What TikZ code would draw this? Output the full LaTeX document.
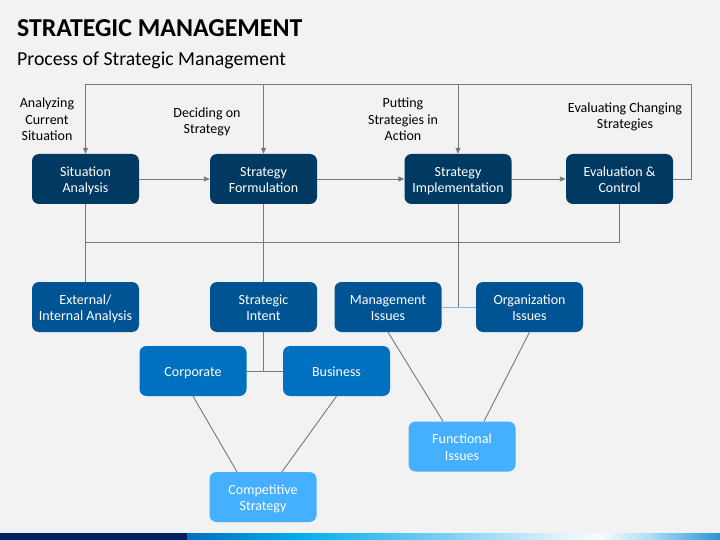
\documentclass[tikz,border=0pt]{standalone}
\usepackage{fontspec}
\setmainfont{Carlito}
\usetikzlibrary{arrows.meta,calc}
\definecolor{bg}{RGB}{242,242,242}
\definecolor{navy}{RGB}{0,58,99}
\definecolor{midblue}{RGB}{0,84,147}
\definecolor{brightblue}{RGB}{0,112,192}
\definecolor{lightblue}{RGB}{69,176,255}
\definecolor{linegray}{RGB}{120,120,120}
\definecolor{joinblue}{RGB}{141,180,226}
\definecolor{barnavy}{RGB}{0,32,96}
\newcommand{\boxtxt}[1]{\raisebox{-2pt}[\height][\depth]{\begin{tabular}{@{}c@{}}#1\end{tabular}}}
\begin{document}
\begin{tikzpicture}[x=1pt,y=-1pt,
  box/.style={rounded corners=7pt, minimum width=107pt, minimum height=50pt, inner sep=0pt,
    text=white, font=\fontsize{14}{16.5}\selectfont},
  navybox/.style={box, fill=navy},
  midbox/.style={box, fill=midblue},
  brightbox/.style={box, fill=brightblue},
  lightbox/.style={box, fill=lightblue},
  lab/.style={align=center, font=\fontsize{14}{16.5}\selectfont, inner sep=0pt},
  conn/.style={draw=linegray, line width=0.9pt},
  arr/.style={conn, -{Triangle[length=6pt,width=5pt]}, shorten >=0pt}]
\fill[bg] (0,0) rectangle (720,540);
\useasboundingbox (0,0) rectangle (720,540);

% bottom bar
\fill[barnavy] (0,533) rectangle (187,540);
\shade[left color=brightblue, right color={rgb,255:red,0;green,174;blue,239}] (187,533) rectangle (300,540);
\shade[left color={rgb,255:red,0;green,174;blue,239}, right color={rgb,255:red,127;green,208;blue,243}] (299.5,533) rectangle (450,540);
\shade[left color={rgb,255:red,127;green,208;blue,243}, right color={rgb,255:red,224;green,242;blue,252}] (449.5,533) rectangle (560,540);
\shade[left color={rgb,255:red,224;green,242;blue,252}, right color={rgb,255:red,248;green,251;blue,253}] (559.5,533) rectangle (600,540);
\shade[left color={rgb,255:red,248;green,251;blue,253}, right color={rgb,255:red,176;green,221;blue,245}] (599.5,533) rectangle (650,540);
\shade[left color={rgb,255:red,176;green,221;blue,245}, right color={rgb,255:red,42;green,149;blue,213}] (649.5,533) rectangle (720,540);

% titles
\node[anchor=base west, inner sep=0pt, font=\fontsize{25.8}{30}\selectfont\bfseries] (title) at (17,36.5) {STRATEGIC MANAGEMENT};
\node[anchor=base west, inner sep=0pt, font=\fontsize{19.8}{24}\selectfont] (subtitle) at (17,66) {Process of Strategic Management};

% labels
\node[lab] (l1) at (47,119.5) {Analyzing\\Current\\Situation};
\node[lab] (l2) at (207,122) {Deciding on\\Strategy};
\node[lab] (l3) at (403,119.5) {Putting\\Strategies in\\Action};
\node[lab] (l4) at (625,117) {Evaluating Changing\\Strategies};

% row 1
\node[navybox] (sa) at (85.5,179) {\boxtxt{Situation\\Analysis}};
\node[navybox] (sf) at (263.5,179) {\boxtxt{Strategy\\Formulation}};
\node[navybox] (si) at (458,179) {\boxtxt{Strategy\\Implementation}};
\node[navybox] (ec) at (619.5,179) {\boxtxt{Evaluation \&\\Control}};

% row 2
\node[midbox] (ext) at (85.5,307) {\boxtxt{External/\\Internal Analysis}};
\node[midbox] (intent) at (263.5,307) {\boxtxt{Strategic\\Intent}};
\node[midbox] (mgmt) at (388,307) {\boxtxt{Management\\Issues}};
\node[midbox] (org) at (529.5,307) {\boxtxt{Organization\\Issues}};

% row 3
\node[brightbox] (corp) at (193,371) {\boxtxt{Corporate}};
\node[brightbox] (bus) at (336.5,371) {\boxtxt{Business}};
\node[lightbox] (func) at (462,446.5) {\boxtxt{Functional\\Issues}};
\node[lightbox] (comp) at (263,497) {\boxtxt{Competitive\\Strategy}};

% feedback loop
\coordinate (fbR) at (691,84);
\coordinate (busy) at (0,242);
\draw[conn] (ec.east) -| (fbR) -- (sa.north |- fbR);
\draw[arr] (sa.north |- fbR) -- (sa.north);
\draw[arr] (sf.north |- fbR) -- (sf.north);
\draw[arr] (si.north |- fbR) -- (si.north);

% main flow
\draw[arr] (sa.east) -- (sf.west);
\draw[arr] (sf.east) -- (si.west);
\draw[arr] (si.east) -- (ec.west);

% bus
\draw[conn] (sa.south) -- (ext.north);
\draw[conn] (sa.south |- busy) -- (ec.south |- busy) -- (ec.south);
\draw[conn] (sf.south) -- (intent.north);
\draw[conn] (intent.south) -- (intent.south |- corp.east);
\draw[conn] (corp.east) -- (bus.west);
\draw[conn] (si.south) -- (si.south |- mgmt.east);
\draw[draw=joinblue, line width=0.9pt] (mgmt.east) -- (org.west);

% diagonals
\draw[conn] (corp.south) -- ($(comp.north)+(-26,0)$);
\draw[conn] (bus.south) -- ($(comp.north)+(19,0)$);
\draw[conn] (mgmt.south) -- ($(func.north)+(-19,0)$);
\draw[conn] (org.south) -- ($(func.north)+(22,0)$);
\end{tikzpicture}
\end{document}
